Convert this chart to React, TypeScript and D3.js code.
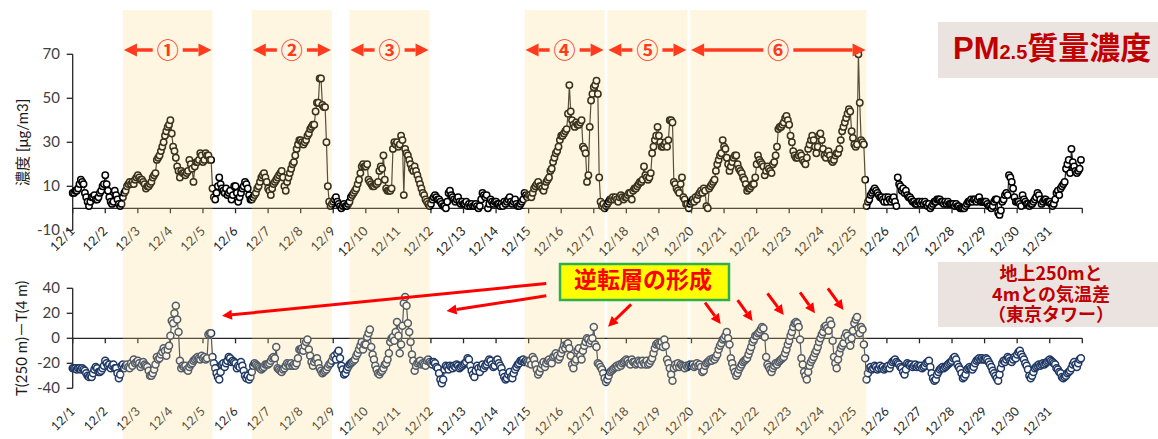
import React from 'react';
import * as d3 from 'd3';

// Day labels along the time axis (one tick per day, data is hourly)
const dayLabels = [
  '12/1', '12/2', '12/3', '12/4', '12/5', '12/6', '12/7', '12/8', '12/9', '12/10',
  '12/11', '12/12', '12/13', '12/14', '12/15', '12/16', '12/17', '12/18', '12/19', '12/20',
  '12/21', '12/22', '12/23', '12/24', '12/25', '12/26', '12/27', '12/28', '12/29', '12/30', '12/31',
];

// Hourly PM2.5 mass concentration [µg/m3], one row per day (00h..23h)
const pm25: number[] = [
  7, 7, 8, 8, 9, 11, 13, 12, 11, 7, 5, 3, 1, 3, 5, 5, 6, 4, 4, 5, 7, 8, 10, 11,
  15, 11, 8, 5, 3, 2, 3, 8, 6, 4, 2, 1, 2, 5, 7, 8, 10, 11, 12, 11, 12, 11, 13, 14,
  15, 14, 13, 13, 12, 11, 9, 10, 10, 11, 12, 14, 15, 16, 22, 23, 24, 26, 28, 30, 33, 35, 37, 38,
  40, 34, 28, 26, 23, 19, 17, 14, 17, 16, 16, 15, 16, 17, 22, 20, 18, 12, 19, 21, 21, 22, 25, 24,
  21, 22, 25, 24, 24, 22, 22, 9, 5, 4, 7, 10, 14, 11, 9, 8, 7, 9, 6, 7, 8, 4, 6, 10,
  10, 7, 3, 5, 7, 9, 10, 12, 11, 9, 6, 4, 4, 5, 6, 7, 9, 10, 12, 14, 15, 16, 14, 12,
  9, 8, 6, 9, 11, 12, 13, 14, 15, 16, 17, 14, 10, 8, 12, 14, 16, 18, 20, 21, 24, 27, 29, 31,
  31, 30, 29, 30, 31, 33, 34, 36, 37, 38, 38, 44, 48, 48, 59, 59, 47, 46, 46, 30, 10, 3, 1, 2,
  3, 4, 5, 3, 2, 1, 0, 1, 2, 1, 1, 2, 3, 5, 6, 7, 8, 9, 11, 13, 16, 19, 20, 19,
  19, 20, 13, 12, 11, 10, 10, 11, 11, 12, 17, 19, 18, 24, 13, 9, 8, 8, 8, 9, 27, 30, 29, 30,
  28, 29, 33, 31, 6, 27, 25, 24, 22, 20, 18, 17, 19, 17, 15, 13, 11, 9, 7, 6, 4, 3, 2, 1,
  2, 4, 5, 6, 5, 4, 4, 3, 2, 1, 1, 0, 3, 7, 8, 6, 5, 4, 3, 4, 5, 3, 2, 3,
  2, 2, 3, 1, 2, 1, 2, 1, 1, 2, 1, 0, 1, 4, 7, 6, 5, 6, 0, 2, 4, 3, 2, 3,
  3, 2, 2, 1, 2, 1, 3, 2, 3, 4, 5, 3, 2, 3, 4, 2, 1, 1, 2, 3, 4, 7, 6, 5,
  6, 6, 5, 7, 9, 10, 11, 12, 10, 10, 9, 8, 10, 12, 13, 14, 17, 18, 21, 23, 25, 26, 28, 31,
  33, 33, 34, 35, 36, 43, 56, 44, 40, 38, 37, 39, 38, 38, 39, 40, 28, 27, 25, 12, 15, 37, 49, 52,
  55, 56, 58, 52, 14, 3, 1, 2, 0, 1, 2, 3, 4, 4, 5, 4, 5, 4, 3, 5, 6, 5, 4, 5,
  5, 6, 7, 7, 4, 8, 9, 9, 10, 11, 12, 12, 13, 19, 15, 14, 13, 14, 16, 25, 28, 31, 33, 37,
  33, 30, 28, 28, 29, 30, 28, 31, 40, 40, 39, 12, 11, 9, 8, 7, 11, 14, 5, 4, 2, 2, 0, 2,
  3, 4, 3, 5, 4, 6, 7, 8, 7, 9, 8, 1, 0, 9, 10, 11, 12, 13, 17, 20, 22, 24, 25, 31,
  28, 27, 23, 20, 17, 19, 21, 23, 24, 24, 20, 18, 17, 16, 14, 13, 11, 8, 9, 9, 10, 11, 11, 14,
  20, 24, 22, 21, 20, 19, 15, 17, 19, 18, 17, 16, 20, 21, 24, 28, 36, 37, 37, 38, 39, 41, 42, 40,
  38, 33, 30, 26, 24, 23, 23, 24, 25, 24, 22, 21, 20, 23, 27, 29, 31, 33, 31, 28, 25, 28, 33, 34,
  31, 27, 24, 23, 25, 26, 24, 22, 21, 22, 24, 25, 25, 27, 31, 35, 37, 39, 41, 43, 45, 44, 35, 32,
  29, 28, 29, 70, 48, 31, 30, 29, 13, 1, 3, 4, 6, 7, 8, 9, 8, 7, 6, 5, 5, 4, 3, 5,
  3, 5, 4, 3, 4, 5, 3, 1, 14, 11, 10, 8, 9, 7, 8, 6, 5, 5, 4, 3, 3, 2, 2, 3,
  3, 2, 3, 2, 3, 2, 1, 2, 0, 1, 2, 3, 3, 4, 4, 4, 3, 3, 2, 3, 2, 3, 2, 2,
  2, 2, 1, 2, 1, 1, 0, 0, 0, 0, 1, 2, 3, 3, 4, 3, 4, 4, 3, 4, 5, 3, 3, 3,
  3, 3, 2, 1, 1, 0, 1, 3, 4, 4, -2, -3, -1, 3, 4, 6, 7, 6, 15, 14, 12, 9, 5, 3,
  3, 3, 2, 1, 6, 4, 3, 2, 2, 1, 2, 2, 3, 4, 5, 7, 6, 4, 2, 3, 4, 4, 3, 3,
  3, 2, 1, 2, 4, 7, 8, 6, 9, 10, 11, 12, 18, 20, 22, 16, 27, 21, 19, 17, 16, 17, 18, 22,
];

// Hourly temperature difference T(250 m) - T(4 m), Tokyo Tower, one row per day
const tempDiff: number[] = [
  -24, -24, -24, -25, -24, -24, -25, -24, -25, -26, -28, -30, -31, -30, -31, -28, -25, -23, -24, -27, -27, -26, -24, -22,
  -18, -20, -22, -21, -24, -22, -21, -24, -24, -28, -32, -29, -22, -21, -24, -22, -21, -23, -24, -20, -22, -17, -20, -19,
  -18, -20, -23, -21, -19, -21, -22, -23, -26, -30, -30, -28, -25, -21, -15, -17, -16, -13, -11, -8, -10, -14, -9, -6,
  2, 14, 12, 20, 26, 15, 5, -18, -24, -22, -23, -22, -25, -26, -23, -21, -20, -18, -17, -16, -15, -16, -17, -14,
  -16, -15, -17, -16, 3, 4, 4, -15, -20, -24, -28, -31, -33, -27, -21, -20, -23, -20, -18, -15, -16, -19, -18, -19,
  -20, -24, -22, -23, -19, -22, -26, -30, -32, -30, -33, -31, -27, -22, -20, -21, -22, -23, -24, -25, -24, -23, -21, -21,
  -21, -20, -18, -16, -15, -16, -7, -24, -25, -26, -27, -25, -24, -22, -20, -21, -22, -20, -22, -21, -22, -20, -16, -9,
  -9, -8, -10, -6, -3, -1, -9, -14, -19, -22, -19, -17, -16, -20, -24, -26, -28, -27, -26, -25, -23, -21, -20, -18,
  -15, -14, -17, -12, -10, -16, -22, -25, -29, -28, -25, -23, -21, -20, -19, -18, -17, -14, -12, -9, -6, -3, -9, -5,
  -5, 1, 4, 7, -7, -13, -17, -22, -25, -28, -29, -27, -26, -24, -21, -20, -17, -12, -3, 0, 1, -2, 5, 13,
  2, -12, -5, 10, 28, 33, 26, 12, 5, -3, -13, -18, -26, -22, -20, -19, -18, -21, -20, -21, -22, -18, -17, -19,
  -20, -21, -19, -20, -23, -24, -28, -33, -36, -33, -25, -22, -23, -25, -22, -23, -24, -22, -23, -21, -22, -24, -23, -22,
  -21, -20, -19, -16, -17, -22, -26, -29, -31, -26, -22, -24, -27, -23, -21, -24, -22, -21, -19, -17, -18, -21, -23, -22,
  -18, -17, -20, -22, -24, -28, -31, -33, -32, -29, -27, -31, -32, -28, -25, -23, -21, -20, -18, -18, -17, -19, -18, -19,
  -20, -18, -21, -15, -17, -21, -25, -29, -27, -24, -21, -19, -23, -20, -18, -17, -19, -20, -15, -14, -12, -14, -17, -15,
  -12, -9, -6, -8, -5, -4, -8, -14, -21, -24, -19, -17, -10, -8, -14, -17, -10, -6, -3, 0, -1, -4, -2, 0,
  9, -5, -7, -20, -21, -23, -25, -28, -32, -35, -33, -30, -27, -26, -25, -24, -23, -22, -23, -21, -22, -20, -19, -18,
  -17, -18, -20, -21, -17, -19, -19, -21, -20, -18, -19, -21, -18, -20, -21, -18, -21, -20, -18, -16, -12, -8, -5, -4,
  -5, -6, -3, -7, -1, -6, -17, -20, -24, -29, -34, -24, -21, -23, -20, -23, -21, -22, -23, -24, -22, -23, -22, -21,
  -22, -21, -23, -22, -20, -22, -21, -23, -27, -26, -22, -20, -19, -18, -17, -18, -16, -17, -15, -13, -9, -6, -4, -1,
  0, 2, 5, 0, -5, -16, -20, -24, -27, -30, -28, -25, -23, -21, -19, -18, -17, -16, -13, -10, -7, -3, -1, 2,
  2, 4, 5, 7, 9, 8, 1, -15, -21, -23, -25, -27, -24, -22, -20, -21, -19, -18, -17, -16, -15, -12, -9, -5,
  -2, 2, 5, 9, 12, 13, 12, 9, -1, -16, -21, -27, -30, -33, -27, -22, -19, -17, -15, -12, -10, -7, -3, 0,
  3, 5, 9, 10, 8, 6, 14, 11, -2, -15, -20, -24, -17, -12, -8, -6, -4, 1, 4, 2, -2, -6, 0, 6,
  12, 15, 17, 8, 4, 9, 7, -5, -16, -33, -28, -24, -23, -25, -24, -22, -23, -25, -24, -22, -24, -23, -25, -24,
  -23, -22, -24, -21, -19, -18, -17, -19, -20, -21, -23, -24, -27, -29, -25, -20, -21, -22, -21, -23, -22, -21, -23, -22,
  -23, -22, -24, -23, -22, -20, -19, -18, -23, -28, -32, -34, -33, -29, -27, -25, -24, -23, -24, -23, -22, -21, -20, -19,
  -18, -16, -15, -17, -21, -23, -25, -28, -32, -31, -29, -25, -24, -23, -24, -25, -23, -20, -18, -17, -16, -17, -16, -17,
  -17, -16, -17, -19, -21, -23, -26, -28, -30, -32, -34, -29, -24, -20, -18, -19, -17, -15, -16, -18, -19, -17, -15, -16,
  -13, -11, -10, -13, -15, -17, -20, -22, -25, -30, -32, -30, -27, -24, -23, -22, -21, -22, -21, -20, -21, -20, -19, -18,
  -17, -18, -19, -20, -21, -24, -25, -27, -28, -31, -32, -31, -30, -28, -27, -26, -24, -21, -19, -21, -23, -20, -17, -16,
];

const pmTicks = [-10, 10, 30, 50, 70];
const tdTicks = [-40, -20, 0, 20, 40];

// Pollution episodes, in hours from 12/1 00:00
const episodeLabels = ['①', '②', '③', '④', '⑤', '⑥'];
const episodeStart = [37, 132, 204, 333, 394, 455];
const episodeEnd = [103, 191, 263, 392, 453, 585];

// Arrows from the inversion callout: [hour, °C] tail -> [hour, °C] head (lower panel coordinates)
const inversionArrowTail: [number, number][] = [
  [349, 43.8], [349, 34], [411.5, 27.2], [466, 28.5], [490, 30.6], [512, 36], [536, 36.8], [556.5, 40],
];
const inversionArrowHead: [number, number][] = [
  [110, 18], [275.5, 21.8], [394.5, 9.3], [477.5, 11.4], [501, 13.8], [524, 18.6], [547, 20], [568, 22.6],
];

const towerCaption = ['地上250mと', '4mとの気温差', '（東京タワー）'];

const HOURS = dayLabels.length * 24;
const NUM_FONT = "Lato, 'Noto Sans CJK JP', sans-serif";
const JP_FONT = "'Noto Sans CJK JP', 'Liberation Sans', sans-serif";

function headPoints(fx: number, fy: number, tx: number, ty: number, len: number, half: number) {
  const a = Math.atan2(ty - fy, tx - fx);
  const bx = tx - len * Math.cos(a);
  const by = ty - len * Math.sin(a);
  const px = -Math.sin(a) * half;
  const py = Math.cos(a) * half;
  return {
    pts: `${tx},${ty} ${bx + px},${by + py} ${bx - px},${by - py}`,
    bx,
    by,
  };
}

function Arrow({ fx, fy, tx, ty, color, width, len, half }: any) {
  const h = headPoints(fx, fy, tx, ty, len, half);
  return (
    <g>
      <line x1={fx} y1={fy} x2={h.bx} y2={h.by} stroke={color} strokeWidth={width} />
      <polygon points={h.pts} fill={color} />
    </g>
  );
}

export default function App() {
  const W = 1158;
  const H = 439;
  const x = d3.scaleLinear().domain([0, HOURS]).range([72.7, 1082.3]);
  const yPm = d3.scaleLinear().domain([-10, 70]).range([230.3, 54.3]);
  const yTd = d3.scaleLinear().domain([-40, 40]).range([388.3, 288.3]);

  const pmLine = d3.line<number>().x((_, i) => x(i)).y((d) => yPm(d));
  const tdLine = d3.line<number>().x((_, i) => x(i)).y((d) => yTd(d));
  const dayTicks = d3.range(0, dayLabels.length + 1).map((d) => d * 24);

  const axisColor = '#262626';
  const labelColor = '#404040';
  const pmStroke = '#000000';
  const tdStroke = '#1F3864';

  return (
    <svg
      width={W}
      height={H}
      viewBox={`0 0 ${W} ${H}`}
      style={{ position: 'absolute', left: 0, top: 0, background: '#fff' }}
    >
      <rect x={0} y={0} width={W} height={H} fill="#fff" />

      {/* ---------- upper panel: PM2.5 ---------- */}
      <g>
        <line x1={x(0)} x2={x(0)} y1={yPm(70)} y2={yPm(-10)} stroke={axisColor} strokeWidth={1.3} />
        {pmTicks.map((t) => (
          <g key={t}>
            <line x1={x(0) - 6} x2={x(0)} y1={yPm(t)} y2={yPm(t)} stroke={axisColor} strokeWidth={1.3} />
            <text x={60} y={yPm(t) + 5} textAnchor="end" fontSize={15} fill={labelColor} fontFamily={NUM_FONT}>
              {t}
            </text>
          </g>
        ))}
        <line x1={x(0)} x2={x(HOURS)} y1={yPm(0)} y2={yPm(0)} stroke={axisColor} strokeWidth={1.3} />
        {dayTicks.map((h) => (
          <line key={h} x1={x(h)} x2={x(h)} y1={yPm(0)} y2={yPm(0) + 5} stroke={axisColor} strokeWidth={1.3} />
        ))}
        {dayLabels.map((lab, i) => (
          <text
            key={lab}
            transform={`translate(${x(i * 24) + 3},${232}) rotate(-45)`}
            textAnchor="end"
            fontSize={13}
            fill="#262626"
            fontFamily={NUM_FONT}
          >
            {lab}
          </text>
        ))}
        <text
          transform={`translate(28,${(yPm(70) + yPm(-10)) / 2}) rotate(-90)`}
          textAnchor="middle"
          fontSize={15}
          fill="#1a1a1a"
          fontFamily={NUM_FONT}
        >
          濃度 [μg/m3]
        </text>
        <path d={pmLine(pm25) ?? ''} fill="none" stroke="#262626" strokeWidth={1.2} />
        {pm25.map((v, i) => (
          <circle key={i} cx={x(i)} cy={yPm(v)} r={3.2} fill="#fff" stroke={pmStroke} strokeWidth={1.5} />
        ))}
      </g>

      {/* ---------- lower panel: temperature difference ---------- */}
      <g>
        <line x1={x(0)} x2={x(0)} y1={yTd(40)} y2={yTd(-40)} stroke={axisColor} strokeWidth={1.3} />
        {tdTicks.map((t) => (
          <g key={t}>
            <line x1={x(0) - 6} x2={x(0)} y1={yTd(t)} y2={yTd(t)} stroke={axisColor} strokeWidth={1.3} />
            <text x={60} y={yTd(t) + 5} textAnchor="end" fontSize={15} fill={labelColor} fontFamily={NUM_FONT}>
              {t}
            </text>
          </g>
        ))}
        <line x1={x(0)} x2={x(HOURS)} y1={yTd(0)} y2={yTd(0)} stroke={axisColor} strokeWidth={1.3} />
        {dayTicks.map((h) => (
          <line key={h} x1={x(h)} x2={x(h)} y1={yTd(0)} y2={yTd(0) + 5} stroke={axisColor} strokeWidth={1.3} />
        ))}
        {dayLabels.map((lab, i) => (
          <text
            key={lab}
            transform={`translate(${x(i * 24) + 3},${412}) rotate(-45)`}
            textAnchor="end"
            fontSize={12.5}
            fill="#262626"
            fontFamily={NUM_FONT}
          >
            {lab}
          </text>
        ))}
        <text
          transform={`translate(27,${(yTd(40) + yTd(-40)) / 2}) rotate(-90)`}
          textAnchor="middle"
          fontSize={15}
          fill="#1a1a1a"
          fontFamily={NUM_FONT}
        >
          T(250 m)－T(4 m)
        </text>
        <path d={tdLine(tempDiff) ?? ''} fill="none" stroke={tdStroke} strokeWidth={1.2} />
        {tempDiff.map((v, i) => (
          <circle key={i} cx={x(i)} cy={yTd(v)} r={3.5} fill="#fff" stroke={tdStroke} strokeWidth={1.5} />
        ))}
      </g>

      {/* ---------- episode shading over both panels ---------- */}
      {episodeStart.map((s, i) => (
        <rect
          key={i}
          x={x(s)}
          y={10}
          width={x(episodeEnd[i]) - x(s)}
          height={H - 10}
          fill="rgb(255,218,125)"
          fillOpacity={0.23}
        />
      ))}

      {/* episode span arrows with circled numbers */}
      {episodeStart.map((s, i) => {
        const xs = x(s);
        const xe = x(episodeEnd[i]);
        const xc = (xs + xe) / 2;
        const ya = 50;
        const red = '#FF3B1D';
        return (
          <g key={i}>
            <Arrow fx={xc - 15} fy={ya} tx={xs + 1} ty={ya} color={red} width={3.5} len={13} half={6.5} />
            <Arrow fx={xc + 15} fy={ya} tx={xe - 1} ty={ya} color={red} width={3.5} len={13} half={6.5} />
            <text x={xc} y={ya + 8.4} textAnchor="middle" fontSize={22} fontWeight={700} fill={red} fontFamily={JP_FONT}>
              {episodeLabels[i]}
            </text>
          </g>
        );
      })}

      {/* ---------- title boxes ---------- */}
      <rect x={938} y={22} width={220} height={56} fill="#EAE3DF" />
      <text x={953} y={58.5} fontSize={31} fontWeight={700} fill="#C00000" fontFamily={"'Liberation Sans', 'Noto Sans CJK JP', sans-serif"}>
        <tspan>PM</tspan>
        <tspan fontSize={20}>2.5</tspan>
        <tspan fontFamily={JP_FONT}>質量濃度</tspan>
      </text>

      <rect x={938} y={262} width={220} height={65} fill="#EAE3DF" />
      {towerCaption.map((line, i) => (
        <text
          key={line}
          x={1051}
          y={280 + i * 20.5}
          textAnchor="middle"
          fontSize={18}
          fontWeight={700}
          fill="#C00000"
          fontFamily={JP_FONT}
        >
          {line}
        </text>
      ))}

      {/* ---------- inversion callout ---------- */}
      {inversionArrowTail.map((t, i) => (
        <Arrow
          key={i}
          fx={x(t[0])}
          fy={yTd(t[1])}
          tx={x(inversionArrowHead[i][0])}
          ty={yTd(inversionArrowHead[i][1])}
          color="#FF0000"
          width={3}
          len={10}
          half={5}
        />
      ))}
      <rect x={560} y={264} width={169} height={36} fill="#FFFF00" stroke="#2DB04B" strokeWidth={2.5} />
      <text x={643} y={288} textAnchor="middle" fontSize={23} fontWeight={700} fill="#FF0000" fontFamily={JP_FONT}>
        逆転層の形成
      </text>
    </svg>
  );
}
